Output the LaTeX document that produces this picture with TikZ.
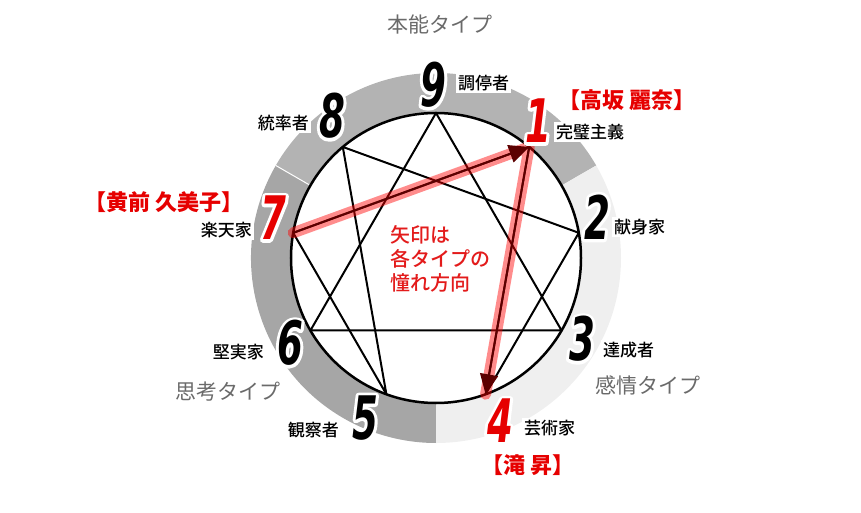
\documentclass[tikz,border=0pt]{standalone}
\usepackage{fontspec}
\usepackage{tikz}
\usetikzlibrary{arrows.meta}

\newfontfamily\jp{Noto Sans CJK JP}
\newfontfamily\jpmid{Noto Sans CJK JP Medium}
\newfontfamily\numfont[FakeStretch=0.62]{DejaVu Sans}

\definecolor{instinct}{HTML}{B3B3B3}
\definecolor{thinking}{HTML}{A6A6A6}
\definecolor{feeling}{HTML}{EFEFEF}
\definecolor{namered}{HTML}{E60000}
\definecolor{notered}{HTML}{E31B1B}
\definecolor{arrowred}{HTML}{5C0000}
\definecolor{typegray}{HTML}{6A6A6A}

% white rim round the big digits
\newcommand\rimdigit[1]{\rlap{\special{pdf:literal direct 1 1 1 RG 6 w 1 j 1 Tr}#1\special{pdf:literal direct 0 Tr}}#1}

\begin{document}
\begin{tikzpicture}[x = 1pt, y = 1pt, line width = 2pt, line join = round,
                    digit/.style = {font = \numfont\fontsize{60}{60}\selectfont\bfseries\itshape, inner sep = 0pt},
                    role/.style = {font = \jpmid\fontsize{17}{17}\selectfont, fill = white, inner sep = 2pt},
                    member/.style = {font = \jp\fontsize{22}{22}\selectfont\bfseries, text = namered, inner sep = 0pt},
                    group/.style = {font = \jp\fontsize{21}{21}\selectfont, text = typegray, inner sep = 0pt},
                    band/.style = {line width = 11pt, red, opacity = 0.45, line cap = round},
                    wish/.style = {line width = 2pt, arrowred, -{Triangle[length = 20pt, width = 18pt]}}]
  \useasboundingbox (-436, -255) rectangle (425, 258);

  % ring of the three centres
  \fill [instinct] (30:185) arc (30:150:185) -- (150:145) arc (150:30:145) -- cycle;
  \fill [thinking] (150:185) arc (150:270:185) -- (270:145) arc (270:150:145) -- cycle;
  \fill [feeling] (-90:185) arc (-90:30:185) -- (30:145) arc (30:-90:145) -- cycle;
  \draw [white, line width = 1pt] (150:145) -- (150:185);
  \fill [white] (0, 0) circle (145);

  \coordinate (V9) at (90:145);
  \coordinate (V1) at (50:145);
  \coordinate (V2) at (10:145);
  \coordinate (V3) at (-30:145);
  \coordinate (V4) at (-70:145);
  \coordinate (V5) at (-110:145);
  \coordinate (V6) at (-150:145);
  \coordinate (V7) at (170:145);
  \coordinate (V8) at (130:145);

  \draw (V9) -- (V3) -- (V6) -- cycle;
  \draw (V1) -- (V4) -- (V2) -- (V8) -- (V5) -- (V7) -- cycle;
  \draw [line width = 2.5pt] (0, 0) circle (145);

  % longing arrows
  \draw [band] (V7) -- (V1) -- (V4);
  \draw [wish] (V7) -- (V1);
  \draw [wish] (V1) -- (V4);

  \node [digit] (N9) at (-3, 173) {\rimdigit{9}};
  \node [digit] (N8) at (-104, 142) {\rimdigit{8}};
  \node [digit, text = namered] (N1) at (102, 137) {\rimdigit{1}};
  \node [digit] (N2) at (161, 41) {\rimdigit{2}};
  \node [digit] (N3) at (146, -81) {\rimdigit{3}};
  \node [digit, text = namered] (N4) at (64, -163) {\rimdigit{4}};
  \node [digit] (N5) at (-71, -160) {\rimdigit{5}};
  \node [digit] (N6) at (-146, -85) {\rimdigit{6}};
  \node [digit, text = namered] (N7) at (-163, 40) {\rimdigit{7}};

  \node [role, anchor = west] (R9) at (19, 175) {調停者};
  \node [role, anchor = east] (R8) at (-124, 135) {統率者};
  \node [role, anchor = west] (R1) at (117, 126) {完璧主義};
  \node [role, anchor = west] (R2) at (175, 31) {献身家};
  \node [role, anchor = west] (R3) at (164, -92) {達成者};
  \node [role, anchor = west] (R4) at (85, -170) {芸術家};
  \node [role, anchor = east] (R5) at (-94, -172) {観察者};
  \node [role, anchor = east] (R6) at (-169, -94) {堅実家};
  \node [role, anchor = east] (R7) at (-181, 28) {楽天家};

  \node [member] (M1) at (191, 158) {【高坂 麗奈】};
  \node [member] (M7) at (-272, 56) {【黄前 久美子】};
  \node [member] (M4) at (92, -207) {【滝 昇】};

  \node [group] (G1) at (4, 233) {本能タイプ};
  \node [group] (G2) at (-208, -134) {思考タイプ};
  \node [group] (G3) at (212, -127) {感情タイプ};

  \node [font = \jpmid\fontsize{20}{24}\selectfont, text = notered, align = left, anchor = west]
    (note) at (-50, -1) {矢印は\\各タイプの\\憧れ方向};
\end{tikzpicture}
\end{document}
